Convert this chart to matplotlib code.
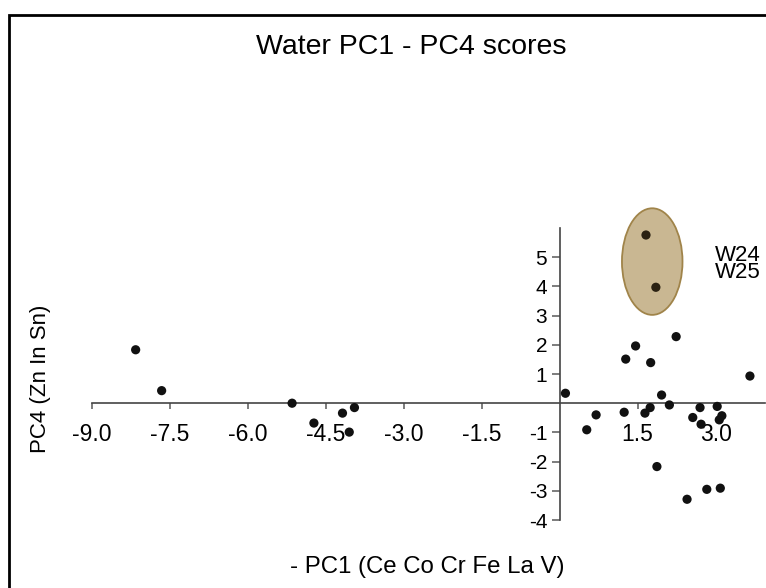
import matplotlib
matplotlib.use('Agg')
import matplotlib.pyplot as plt
from matplotlib.patches import Ellipse, Rectangle

plt.rcParams['font.family'] = ['Liberation Sans', 'DejaVu Sans']

# Scores
pc1 = [-8.16, -7.66, -5.15, -4.73, -4.18, -3.95, -4.05,
       1.66, 1.85, 0.11, 0.52, 0.70, 1.24, 1.27, 1.46, 1.75, 1.64, 1.74,
       1.96, 2.11, 2.24, 1.87, 2.45, 2.56, 2.70, 2.72, 2.83, 3.03, 3.12,
       3.07, 3.09, 3.66]
pc4 = [1.83, 0.43, 0.00, -0.68, -0.34, -0.15, -0.99,
       5.76, 3.97, 0.34, -0.91, -0.40, -0.31, 1.51, 1.96, 1.39, -0.34, -0.15,
       0.28, -0.06, 2.28, -2.17, -3.29, -0.49, -0.15, -0.72, -2.95, -0.11, -0.43,
       -0.57, -2.91, 0.93]

xticks = [-9.0, -7.5, -6.0, -4.5, -3.0, -1.5, 1.5, 3.0]
xtick_labels = ['-9.0', '-7.5', '-6.0', '-4.5', '-3.0', '-1.5', '1.5', '3.0']
yticks = [-4, -3, -2, -1, 1, 2, 3, 4, 5]
ytick_labels = ['-4', '-3', '-2', '-1', '1', '2', '3', '4', '5']

highlight_labels = ['W24', 'W25']
highlight_center = (1.78, 4.85)
highlight_size = (1.165, 3.65)

W, H = 766, 588
fig = plt.figure(figsize=(W / 100, H / 100), dpi=100)
ax = fig.add_axes([92 / W, 1 - 520 / H, (765 - 92) / W, (520 - 228) / H])
ax.set_xlim(-9.0, 3.95)
ax.set_ylim(-4.0, 6.0)

ell = Ellipse(highlight_center, highlight_size[0], highlight_size[1],
              facecolor='#c9b792', edgecolor='#a0844a', linewidth=1.3, zorder=1,
              clip_on=False)
ax.add_patch(ell)

inside = [((x - highlight_center[0]) / (highlight_size[0] / 2)) ** 2 +
          ((y - highlight_center[1]) / (highlight_size[1] / 2)) ** 2 <= 1
          for x, y in zip(pc1, pc4)]
colors = ['#2a2112' if i else '#111111' for i in inside]
ax.scatter(pc1, pc4, s=44, c=colors, edgecolors='none', zorder=3, clip_on=False)

# labels of highlighted samples (one block, tight line spacing)
ax.text(2.98, 4.28, '\n'.join(highlight_labels), fontsize=16, ha='left',
        va='baseline', linespacing=0.78)

for s in ['top', 'right']:
    ax.spines[s].set_visible(False)
ax.spines['left'].set_position(('data', 0))
ax.spines['bottom'].set_position(('data', 0))
for s in ['left', 'bottom']:
    ax.spines[s].set_color('#444444')
    ax.spines[s].set_linewidth(1.2)
    ax.spines[s].set_zorder(2)

ax.set_xticks(xticks)
ax.set_xticklabels(xtick_labels)
ax.set_yticks(yticks)
ax.set_yticklabels(ytick_labels)
ax.tick_params(axis='x', direction='out', length=4.5, width=1.2, color='#666666',
               labelsize=16.5, pad=9.5)
ax.tick_params(axis='y', direction='out', length=5.5, width=1.2, color='#666666',
               labelsize=15, pad=3.5)
ax.patch.set_visible(False)

fig.text(411 / W, 1 - 53.5 / H, 'Water PC1 - PC4 scores', fontsize=20.5,
         ha='center', va='baseline')
fig.text(427 / W, 1 - 573 / H, '- PC1 (Ce Co Cr Fe La V)', fontsize=17.3,
         ha='center', va='baseline')
fig.text(41 / W, 1 - 379 / H, 'PC4 (Zn In Sn)', fontsize=16, rotation=90,
         ha='center', va='center')

border = Rectangle((9 / W, -0.2), 2.0, (1 - 15 / H) + 0.2, transform=fig.transFigure,
                   fill=False, edgecolor='black', linewidth=2.0)
fig.patches.append(border)

fig.savefig('out.png', dpi=100)
